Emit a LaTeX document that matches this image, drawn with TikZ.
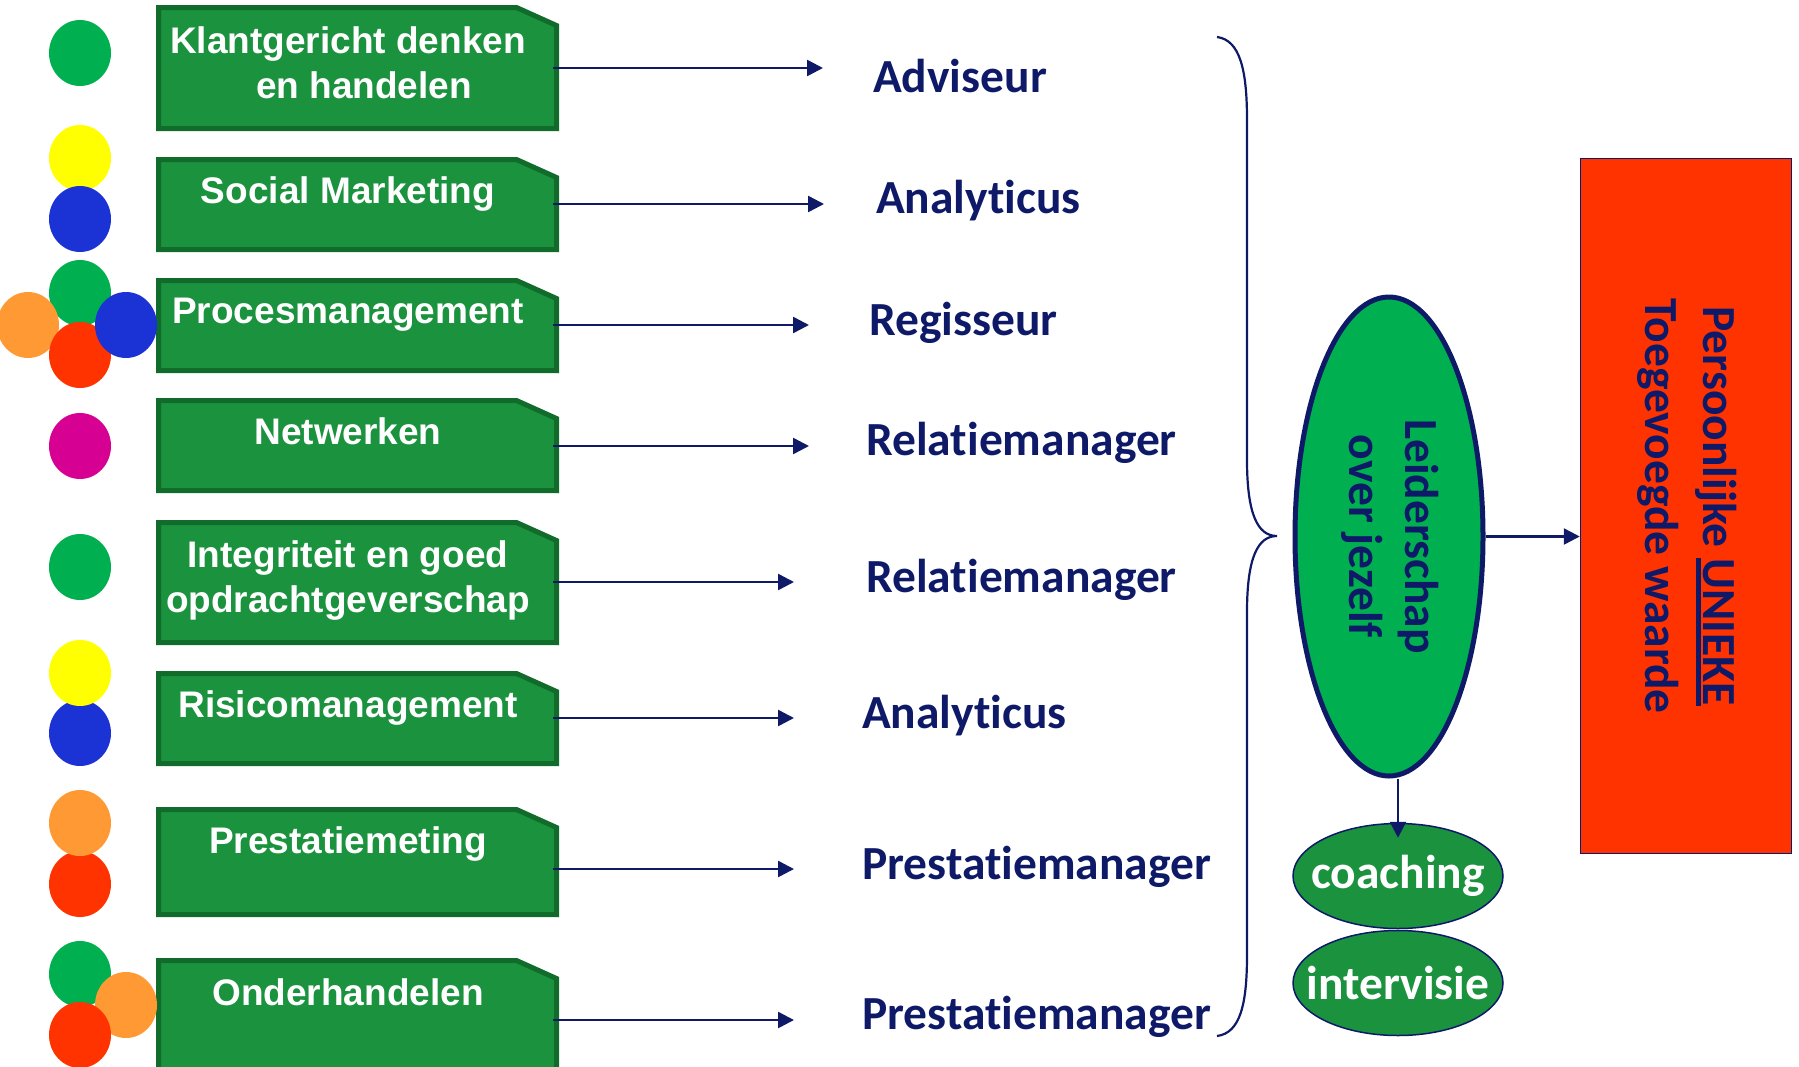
\documentclass[tikz,border=0pt]{standalone}
\usepackage{fontspec}
\usetikzlibrary{arrows.meta,shapes.geometric,positioning}

\newfontfamily\vakfont{Liberation Sans}
\newfontfamily\rolfont{Carlito}[Ligatures=NoCommon]

\definecolor{vakgroen}{RGB}{27,146,62}
\definecolor{vakdonker}{RGB}{17,108,44}
\definecolor{felgroen}{RGB}{0,176,80}
\definecolor{navy}{RGB}{14,26,104}
\definecolor{geel}{RGB}{255,255,0}
\definecolor{blauw}{RGB}{27,50,212}
\definecolor{oranje}{RGB}{255,153,51}
\definecolor{rood}{RGB}{255,51,0}
\definecolor{paars}{RGB}{214,0,147}

\newsavebox\ondbox
\newcommand{\onderstreep}[1]{\sbox\ondbox{#1}\rlap{\rule[-7pt]{\wd\ondbox}{4.5pt}}\usebox\ondbox}

\begin{document}
\begin{tikzpicture}[x=1pt,y=-1pt,
    vak/.style={rectangle, minimum width=398pt, inner sep=0pt, outer sep=0pt},
    vakrand/.style={draw=vakdonker, line width=5pt, fill=vakgroen},
    vaktekst/.style={text=white, font=\vakfont\bfseries\fontsize{37}{45}\selectfont, inner sep=0pt},
    rol/.style={text=navy, font=\rolfont\bfseries\fontsize{47.5}{56}\selectfont, inner sep=0pt, anchor=base west},
    pijl/.style={draw=navy, line width=2.5pt, -{Triangle[length=16pt,width=16pt]}},
    ovaal/.style={ellipse, draw=navy, line width=1.5pt, fill=vakgroen, inner sep=0pt,
        minimum width=210pt, minimum height=105pt, text=white,
        font=\rolfont\bfseries\fontsize{47.5}{56}\selectfont}]
    \useasboundingbox (0,0) rectangle (1799,1066);

    % competence boxes with a cut-off corner
    \foreach \n/\y/\h in {b1/68/121, b2/204.5/90, b3/325.5/90, b4/445.5/90,
                          b5/582.5/120, b6/718.5/90, b7/862/105, b8/1020/119} {
        \node[vak, minimum height=\h pt] (\n) at (357.5,\y) {};
        \draw[vakrand] (\n.south west) -- (\n.north west) -- ([xshift=-40pt]\n.north east)
            -- ([yshift=-18pt]\n.north east) -- (\n.south east) -- cycle;
    }
    \node[vaktekst, align=center, anchor=north] (t1) at (348,26.5) {Klantgericht denken\\\hspace*{32pt}en handelen};
    \node[vaktekst, anchor=base] (t2) at (348,203) {Social Marketing};
    \node[vaktekst, anchor=base] (t3) at (348,323) {Procesmanagement};
    \node[vaktekst, anchor=base] (t4) at (348,444) {Netwerken};
    \node[vaktekst, align=center, anchor=north] (t5) at (348,540.5) {Integriteit en goed\\opdrachtgeverschap};
    \node[vaktekst, anchor=base] (t6) at (348,717) {Risicomanagement};
    \node[vaktekst, anchor=base] (t7) at (348,853) {Prestatiemeting};
    \node[vaktekst, anchor=base] (t8) at (348,1005) {Onderhandelen};

    % coloured dots
    \fill[felgroen] (80,53) ellipse (31pt and 33pt);
    \fill[geel] (80,158) ellipse (31pt and 33pt);
    \fill[blauw] (80,219) ellipse (31pt and 33pt);
    \fill[felgroen] (80,293) ellipse (31pt and 33pt);
    \fill[oranje] (28,325) ellipse (31pt and 33pt);
    \fill[rood] (80,355) ellipse (31pt and 33pt);
    \fill[blauw] (126,325) ellipse (31pt and 33pt);
    \fill[paars] (80,446) ellipse (31pt and 33pt);
    \fill[felgroen] (80,567) ellipse (31pt and 33pt);
    \fill[blauw] (80,733) ellipse (31pt and 33pt);
    \fill[geel] (80,673) ellipse (31pt and 33pt);
    \fill[rood] (80,884) ellipse (31pt and 33pt);
    \fill[oranje] (80,823) ellipse (31pt and 33pt);
    \fill[felgroen] (80,974) ellipse (31pt and 33pt);
    \fill[oranje] (126,1005) ellipse (31pt and 33pt);
    \fill[rood] (80,1035) ellipse (31pt and 33pt);

    % roles
    \node[rol] (r1) at (873,92) {Adviseur};
    \node[rol] (r2) at (876,213) {Analyticus};
    \node[rol] (r3) at (869,335) {Regisseur};
    \node[rol] (r4) at (866,455) {Relatiemanager};
    \node[rol] (r5) at (866,592) {Relatiemanager};
    \node[rol] (r6) at (862,728) {Analyticus};
    \node[rol] (r7) at (862,879) {Prestatiemanager};
    \node[rol] (r8) at (862,1029) {Prestatiemanager};

    \coordinate (p1) at (823,68);  \coordinate (p2) at (824,204);
    \coordinate (p3) at (809,325); \coordinate (p4) at (809,446);
    \coordinate (p5) at (794,582); \coordinate (p6) at (794,718);
    \coordinate (p7) at (794,869); \coordinate (p8) at (794,1020);
    \foreach \i in {1,...,8} \draw[pijl, shorten <=-4pt] (b\i.east |- p\i) -- (p\i);

    % brace
    \draw[navy, line width=2.2pt] (1217,37) .. controls (1240,40) and (1247,70) .. (1247,120)
        -- (1247,460) .. controls (1247,515) and (1258,536) .. (1277,536)
        .. controls (1258,536) and (1247,557) .. (1247,612)
        -- (1247,955) .. controls (1247,1005) and (1240,1033) .. (1217,1036);

    % right side
    \node[ellipse, draw=navy, line width=5pt, fill=felgroen, minimum width=188pt, minimum height=479pt,
        inner sep=0pt, text=navy, font=\rolfont\bfseries\fontsize{47.5}{56}\selectfont] (leider) at (1389,536.5)
        {\rotatebox{-90}{\begin{tabular}{@{}c@{}}Leiderschap\\over jezelf\end{tabular}}};
    \node[draw=navy, line width=1.5pt, fill=rood, minimum width=211pt, minimum height=695pt, inner sep=0pt,
        text=navy, font=\rolfont\bfseries\fontsize{47.5}{58}\selectfont] (waarde) at (1686,506)
        {\rotatebox{-90}{\begin{tabular}{@{}c@{}}Persoonlijke \onderstreep{UNIEKE}\\Toegevoegde waarde\end{tabular}}};
    \node[ovaal] (coach) at (1398,876) {\makebox[0pt]{coaching}};
    \node[ovaal] (interv) at (1398,983) {\makebox[0pt]{intervisie}};

    \draw[pijl] (leider.east) -- (leider.east -| waarde.west);
    \draw[pijl] (leider.south -| coach.north) -- ([yshift=-15pt]coach.north);
\end{tikzpicture}
\end{document}
